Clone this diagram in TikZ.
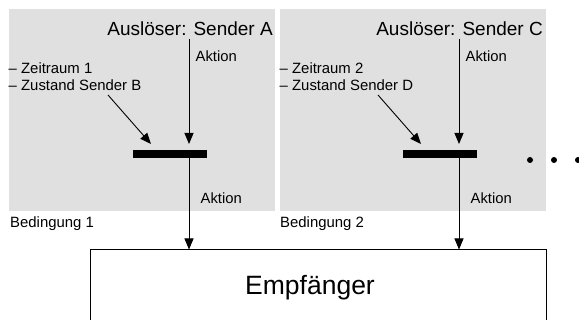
\documentclass[tikz,border=0pt]{standalone}
\usepackage{fontspec}
\setmainfont{Liberation Sans}
\usetikzlibrary{arrows.meta}
\definecolor{panelgray}{RGB}{224,224,224}
\tikzset{
  panel/.style={fill=panelgray, draw=none},
  bigtitle/.style={inner sep=0pt, anchor=base east, font=\fontsize{19}{22}\selectfont},
  smalltext/.style={inner sep=0pt, anchor=base west, font=\fontsize{14.8}{17}\selectfont},
  condtext/.style={inner sep=0pt, anchor=base west, align=left, font=\fontsize{14.9}{17.4}\selectfont},
  barnode/.style={fill=black, draw=none, minimum width=74pt, minimum height=8pt, inner sep=0pt, anchor=north west},
  flow/.style={draw=black, line width=0.9pt, -{Triangle[length=11pt,width=9pt]}},
  dotnode/.style={circle, fill=black, minimum size=6pt, inner sep=0pt},
}
\begin{document}
\begin{tikzpicture}[x=1pt, y=-1pt]
\useasboundingbox (0,0) rectangle (579,320);
\clip (0,0) rectangle (579,320);
\fill[white] (0,0) rectangle (579,320);

% panel 1
\fill[panel] (9,9) rectangle (275,211);
\node[bigtitle] (titleA) at (273,35.5) {Auslöser: Sender A};
\coordinate (trigA) at (189,39);
\node[smalltext] (aktA1) at (195.5,62) {Aktion};
\node[condtext] (zeitA) at (8.5,73.3) {– Zeitraum 1};
\node[condtext] (zustA) at (8.5,90.7) {– Zustand Sender B};
\coordinate (diagA) at (108,95);
\node[barnode] (barA) at (133,150) {};
\coordinate (tipA) at (151,144);
\node[smalltext] (aktA2) at (200.5,203.3) {Aktion};
\node[condtext] (bedA) at (10,228) {Bedingung 1};

% panel 2
\fill[panel] (280,9) rectangle (546,211);
\node[bigtitle] (titleC) at (543,35.5) {Auslöser: Sender C};
\coordinate (trigC) at (459,39);
\node[smalltext] (aktC1) at (465.5,62) {Aktion};
\node[condtext] (zeitC) at (279.5,73.3) {– Zeitraum 2};
\node[condtext] (zustC) at (279.5,90.7) {– Zustand Sender D};
\coordinate (diagC) at (378,95);
\node[barnode] (barC) at (403,150) {};
\coordinate (tipC) at (421,144);
\node[smalltext] (aktC2) at (470.5,203.3) {Aktion};
\node[condtext] (bedC) at (280,228) {Bedingung 2};

% dots
\node[dotnode] (d1) at (530,160) {};
\node[dotnode] (d2) at (554,160) {};
\node[dotnode] (d3) at (578,160) {};

% receiver
\node[draw=black, line width=0.9pt, fill=white, minimum width=456pt, minimum height=90pt, inner sep=0pt, anchor=north west] (empf) at (90,249.5) {};
\node[inner sep=0pt, anchor=base west, font=\fontsize{26.5}{30}\selectfont] (empftext) at (245,295) {Empfänger};

% connectors
\draw[flow] (trigA) -- ([yshift=6pt]trigA |- barA.north);
\draw[flow] (diagA) -- (tipA);
\draw[flow] (trigA |- barA.south) -- (trigA |- empf.north);
\draw[flow] (trigC) -- ([yshift=6pt]trigC |- barC.north);
\draw[flow] (diagC) -- (tipC);
\draw[flow] (trigC |- barC.south) -- (trigC |- empf.north);
\end{tikzpicture}
\end{document}
